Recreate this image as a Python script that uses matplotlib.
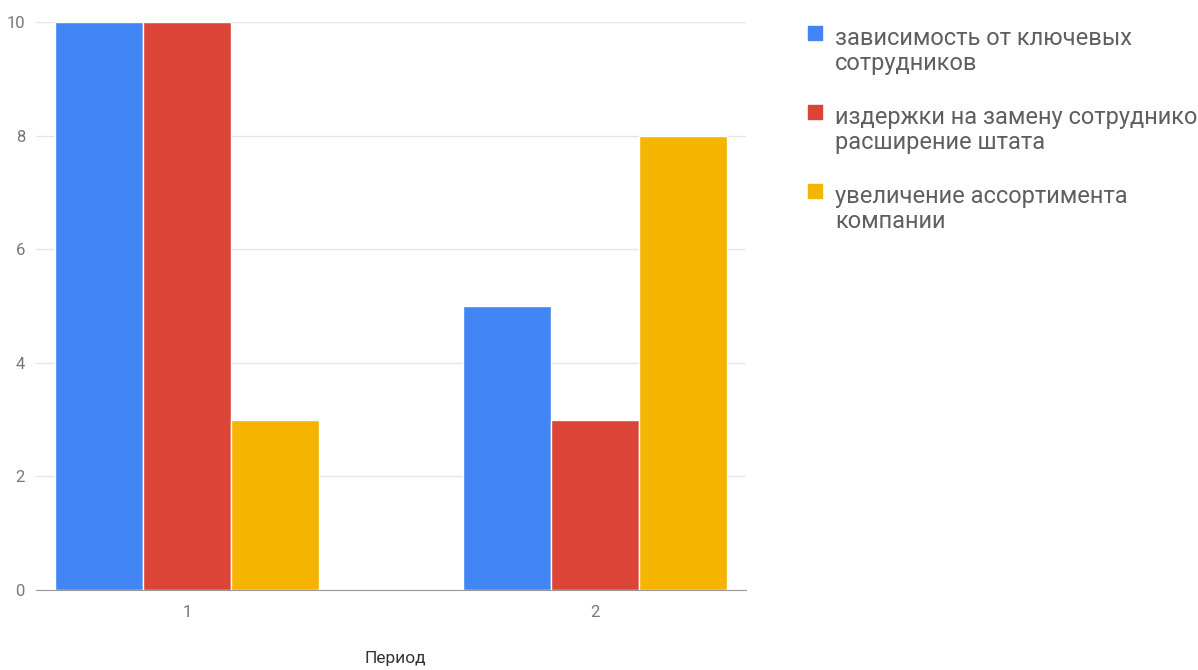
import numpy as np
import matplotlib.pyplot as plt
from matplotlib.patches import Rectangle

plt.rcParams['font.family'] = ['Roboto', 'DejaVu Sans']

# Data
periods = [1, 2]
series_names = [
    'зависимость от ключевых\nсотрудников',
    'издержки на замену сотрудников,\nрасширение штата',
    'увеличение ассортимента\nкомпании',
]
key_staff = [10, 5]
replace_costs = [10, 3]
assortment = [3, 8]
colors = ['#4285F4', '#DB4437', '#F4B400']
yticks = [0, 2, 4, 6, 8, 10]

fig = plt.figure(figsize=(11.98, 6.70), dpi=100)
ax = fig.add_axes([36 / 1198, 1 - 590 / 670, (746 - 36) / 1198, (590 - 22) / 670])

x = np.array(periods, dtype=float)
w = 0.215
for i, vals in enumerate([key_staff, replace_costs, assortment]):
    ax.bar(x + (i - 1) * w, vals, width=w, color=colors[i],
           edgecolor='white', linewidth=1, zorder=3)

ax.set_xlim(0.63, 2.37)
ax.set_ylim(0, 10)
ax.set_yticks(yticks)
ax.set_xticks(periods)
ax.yaxis.grid(True, color='#e6e6e6', linewidth=1, zorder=0)
for s in ['top', 'right', 'left']:
    ax.spines[s].set_visible(False)
ax.spines['bottom'].set_color('#999999')
ax.tick_params(axis='both', length=0, labelsize=12, labelcolor='#777777')
ax.tick_params(axis='x', pad=11)
ax.tick_params(axis='y', pad=8)

# x-axis title placed in figure coords near the bottom edge
fig.text(395 / 1198, 1 - 659 / 670, 'Период', fontsize=12.5, color='#333333',
         ha='center', va='center')

# Legend drawn by hand (the long entry runs past the right edge, as in the original)
legend_y = [37, 116, 195]
for name, c, y in zip(series_names, colors, legend_y):
    fig.patches.append(Rectangle((808 / 1198, 1 - (y + 3) / 670), 14 / 1198, 14 / 670,
                                 transform=fig.transFigure, color=c))
    fig.text(835 / 1198, 1 - (y - 10) / 670, name, fontsize=17, color='#5f5f5f',
             va='top', ha='left', linespacing=1.12)

fig.savefig('out.png', dpi=100)
